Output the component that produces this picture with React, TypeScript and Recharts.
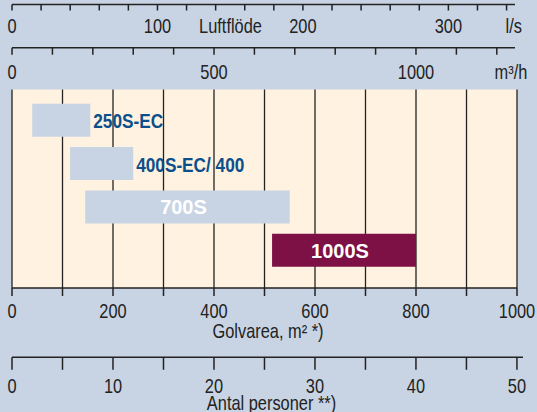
import React from 'react';
import { ComposedChart, Bar, XAxis, YAxis, CartesianGrid, LabelList, Cell } from 'recharts';

const W = 537;
const H = 412;
const SANS = "'Liberation Sans', Arial, Helvetica, sans-serif";
const NARROW_X = 0.82; // Arial squeezed to Arial Narrow proportions
const BG = '#c8d4e3';
const INK = '#222';

// models and the floor area (m²) each one covers
const models = ['250S-EC', '400S-EC/ 400', '700S', '1000S'];
const areaFrom = [40, 115, 145, 515];
const areaTo = [155, 240, 550, 800];
const barFill = [BG, BG, BG, '#7d1044'];

// scales
const areaTicks = [0, 100, 200, 300, 400, 500, 600, 700, 800, 900, 1000];
const areaLabels = [0, 200, 400, 600, 800, 1000];
const lsTicks = [0, 20, 40, 60, 80, 100, 120, 140, 160, 180, 200, 220, 240, 260, 280, 300, 320, 340];
const lsLabels = [0, 100, 200, 300];
const m3Ticks = [0, 100, 200, 300, 400, 500, 600, 700, 800, 900, 1000, 1100, 1200];
const m3Labels = [0, 500, 1000];
const personTicks = [0, 5, 10, 15, 20, 25, 30, 35, 40, 45, 50];
const personLabels = [0, 10, 20, 30, 40, 50];

const lsMax = 345.8;
const m3Max = 1245;
const personMax = 50.6;

const lineStyle = { stroke: INK, strokeWidth: 1.5 };

type NarrowProps = {
  x: number;
  y: number;
  anchor?: 'start' | 'middle' | 'end';
  size?: number;
  bold?: boolean;
  fill?: string;
  children: React.ReactNode;
};

const Narrow = ({ x, y, anchor = 'middle', size = 20, bold = false, fill = INK, children }: NarrowProps) => (
  <text
    transform={`translate(${x},${y}) scale(${NARROW_X},1)`}
    textAnchor={anchor}
    fontFamily={SANS}
    fontSize={size}
    fontWeight={bold ? 'bold' : 'normal'}
    fill={fill}
  >
    {children}
  </text>
);

const makeTick = (labels: number[]) => (p: any) => {
  const v = p.payload?.value;
  if (!labels.includes(v)) return <g />;
  return (
    <Narrow x={p.x} y={p.y + 14.2}>
      {String(v)}
    </Narrow>
  );
};

type ScaleProps = {
  lineY: number;
  right: number;
  max: number;
  ticks: number[];
  labels: number[];
  tickSize: number;
  tickMargin: number;
  axisHeight: number;
  extra?: (vb: any) => React.ReactNode;
};

const ScaleAxis = ({ lineY, right, max, ticks, labels, tickSize, tickMargin, axisHeight, extra }: ScaleProps) => (
  <div style={{ position: 'absolute', left: 0, top: 0 }}>
    <ComposedChart
      width={W}
      height={lineY + axisHeight}
      data={ticks.map((v) => ({ v }))}
      margin={{ top: 0, right, bottom: 0, left: 12 }}
    >
      <XAxis
        type="number"
        dataKey="v"
        domain={[0, max]}
        ticks={ticks}
        interval={0}
        allowDataOverflow
        height={axisHeight}
        tickSize={tickSize}
        tickMargin={tickMargin}
        tick={makeTick(labels)}
        tickLine={lineStyle}
        axisLine={lineStyle}
        label={extra ? { content: (p: any) => extra(p.viewBox) } : undefined}
      />
    </ComposedChart>
  </div>
);

const renderBarLabel = (props: any) => {
  const { x, y, width, height, value } = props;
  const inside = String(value).length * 10 < width;
  if (inside) {
    return (
      <text x={x + width / 2 - 4} y={y + height / 2 + 7.5} textAnchor="middle" fontFamily={SANS} fontWeight="bold" fontSize={20} fill="#fff">
        {value}
      </text>
    );
  }
  return (
    <Narrow x={x + width + 3} y={y + height / 2 + 8} anchor="start" size={21} bold fill="#0b4f8b">
      {value}
    </Narrow>
  );
};

export default function App() {
  const rows = models.map((name, i) => ({ name, range: [areaFrom[i], areaTo[i]] }));

  return (
    <div style={{ position: 'absolute', left: 0, top: 0, width: W, height: H, background: BG, overflow: 'hidden' }}>
      <ScaleAxis
        lineY={4.5}
        right={22}
        max={lsMax}
        ticks={lsTicks}
        labels={lsLabels}
        tickSize={6}
        tickMargin={8.6}
        axisHeight={38}
        extra={(vb) => (
          <g>
            <Narrow x={230.5} y={vb.y + 28.8}>Luftflöde</Narrow>
            <Narrow x={513.7} y={vb.y + 28.8}>l/s</Narrow>
          </g>
        )}
      />
      <ScaleAxis
        lineY={47.7}
        right={22}
        max={m3Max}
        ticks={m3Ticks}
        labels={m3Labels}
        tickSize={7}
        tickMargin={10.1}
        axisHeight={38}
        extra={(vb) => <Narrow x={511} y={vb.y + 31.3}>m³/h</Narrow>}
      />
      <div style={{ position: 'absolute', left: 0, top: 0 }}>
        <ComposedChart
          layout="vertical"
          width={W}
          height={H}
          data={rows}
          margin={{ top: 89.5, right: 20, bottom: 74, left: 12 }}
        >
          <CartesianGrid horizontal={false} stroke={INK} strokeWidth={1.3} fill="#fff2e0" fillOpacity={1} />
          <XAxis
            xAxisId="frame"
            orientation="top"
            type="number"
            domain={[0, 1000]}
            height={0}
            tick={false}
            tickLine={false}
            axisLine={lineStyle}
          />
          <XAxis
            type="number"
            domain={[0, 1000]}
            ticks={areaTicks}
            interval={0}
            height={50}
            tickSize={8}
            tickMargin={7.5}
            tick={makeTick(areaLabels)}
            tickLine={lineStyle}
            axisLine={lineStyle}
            label={{ content: (p: any) => <Narrow x={268} y={p.viewBox.y + 49.5}>Golvarea, m² *)</Narrow> }}
          />
          <YAxis type="category" dataKey="name" hide padding={{ top: 9.3, bottom: 16 }} />
          <Bar dataKey="range" barSize={33} isAnimationActive={false}>
            {rows.map((r, i) => (
              <Cell key={r.name} fill={barFill[i]} />
            ))}
            <LabelList dataKey="name" content={renderBarLabel} />
          </Bar>
        </ComposedChart>
      </div>
      <ScaleAxis
        lineY={357.3}
        right={14}
        max={personMax}
        ticks={personTicks}
        labels={personLabels}
        tickSize={12.5}
        tickMargin={8.7}
        axisHeight={54.5}
        extra={(vb) => <Narrow x={271.5} y={vb.y + 53.2}>Antal personer **)</Narrow>}
      />
    </div>
  );
}
